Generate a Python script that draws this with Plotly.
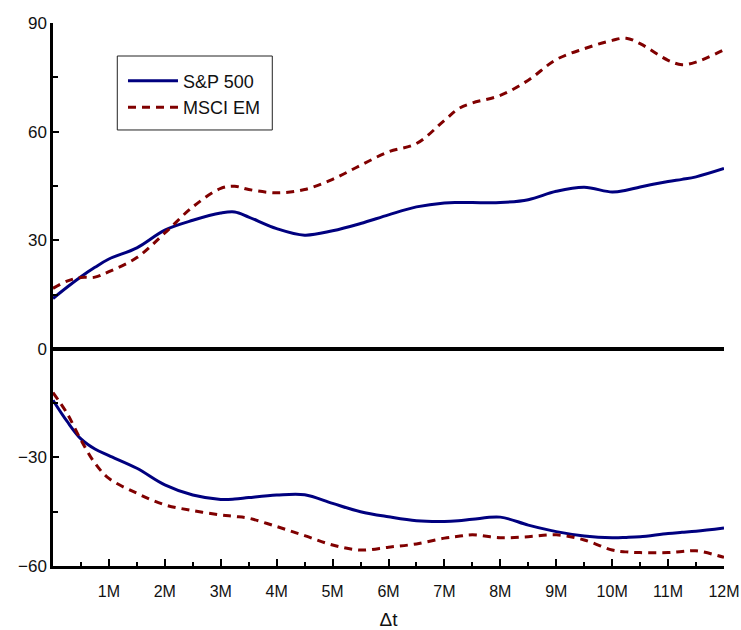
import plotly.graph_objects as go

# Horizon in months
months = [0, 0.25, 0.5, 0.75, 1, 1.5, 2, 2.5, 3, 3.25, 3.5, 4, 4.5, 5, 5.5, 6,
          6.5, 7, 7.25, 7.5, 8, 8.5, 9, 9.5, 10, 10.25, 10.5, 11, 11.25, 11.5, 12]

sp_up = [13.9, 17.0, 19.9, 22.5, 24.8, 27.9, 32.8, 35.5, 37.5, 37.8, 36.4, 33.2, 31.4,
         32.6, 34.6, 37.0, 39.2, 40.3, 40.4, 40.4, 40.4, 41.2, 43.5, 44.6, 43.3, 43.8,
         44.7, 46.2, 46.8, 47.5, 49.8]
em_up = [16.7, 18.7, 19.7, 19.8, 21.3, 25.2, 32.0, 39.2, 44.3, 44.9, 44.0, 43.1, 44.0,
         46.8, 50.7, 54.4, 56.7, 63.1, 66.3, 67.9, 70.0, 74.2, 79.9, 82.9, 85.2, 85.8,
         84.3, 79.7, 78.5, 79.2, 82.6]
sp_dn = [-14.2, -20.0, -24.9, -27.7, -29.5, -33.0, -37.6, -40.4, -41.6, -41.5, -41.1,
         -40.4, -40.3, -42.7, -45.0, -46.4, -47.5, -47.7, -47.5, -47.1, -46.5, -48.7,
         -50.5, -51.7, -52.2, -52.1, -51.9, -51.0, -50.7, -50.4, -49.5]
em_dn = [-12.1, -17.8, -25.2, -31.6, -35.8, -39.9, -43.1, -44.7, -45.9, -46.3, -46.8,
         -49.1, -51.6, -54.2, -55.6, -54.8, -53.9, -52.3, -51.8, -51.4, -52.2, -51.9,
         -51.4, -52.8, -55.6, -56.1, -56.3, -56.3, -56.0, -55.8, -57.6]

x_tickvals = [1, 2, 3, 4, 5, 6, 7, 8, 9, 10, 11, 12]
x_ticktext = ["1M", "2M", "3M", "4M", "5M", "6M", "7M", "8M", "9M", "10M", "11M", "12M"]
y_tickvals = [-60, -30, 0, 30, 60, 90]
y_ticktext = ["\u221260", "\u221230", "0", "30", "60", "90"]

BLUE = "#00007f"
RED = "#800000"
FONT = "Liberation Sans"

fig = go.Figure()
fig.add_trace(go.Scatter(x=months, y=sp_up, mode="lines", name="S&P 500",
                         line=dict(color=BLUE, width=3, shape="spline", smoothing=1.0),
                         legendgroup="sp"))
fig.add_trace(go.Scatter(x=months, y=em_up, mode="lines", name="MSCI EM",
                         line=dict(color=RED, width=3, dash="8px,6px", shape="spline", smoothing=1.0),
                         legendgroup="em"))
fig.add_trace(go.Scatter(x=months, y=sp_dn, mode="lines", name="S&P 500", showlegend=False,
                         line=dict(color=BLUE, width=3, shape="spline", smoothing=1.0),
                         legendgroup="sp"))
fig.add_trace(go.Scatter(x=months, y=em_dn, mode="lines", name="MSCI EM", showlegend=False,
                         line=dict(color=RED, width=3, dash="8px,6px", shape="spline", smoothing=1.0),
                         legendgroup="em"))

# legend frame
fig.add_shape(type="rect", xref="paper", yref="paper",
              x0=0.0958, x1=0.3268, y0=0.803, y1=0.9392,
              line=dict(color="#222222", width=1), fillcolor="white", layer="below")

fig.update_layout(
    width=741, height=630,
    margin=dict(l=53, r=17, t=23, b=64),
    plot_bgcolor="white", paper_bgcolor="white",
    font=dict(family=FONT, color="#111111", size=16),
    showlegend=True,
    legend=dict(x=0.1043, y=0.927, xanchor="left", yanchor="top",
                bgcolor="rgba(0,0,0,0)", borderwidth=0, itemwidth=50,
                font=dict(family=FONT, size=18, color="#111111"),
                tracegroupgap=0),
    xaxis=dict(range=[0, 12], tickmode="array", tickvals=x_tickvals, ticktext=x_ticktext,
               showgrid=False, zeroline=False, showline=True, linecolor="black", linewidth=2.5,
               ticks="inside", ticklen=7, tickwidth=1.5, tickcolor="black",
               ticklabelstandoff=9,
               tickfont=dict(family=FONT, size=16, color="#111111"),
               minor=dict(tickmode="array", tickvals=[0.5 + i for i in range(12)],
                          ticks="inside", ticklen=4, tickwidth=1.5, tickcolor="black"),
               title=dict(text="\u0394t", font=dict(family=FONT, size=19, color="#111111"), standoff=22),
               automargin=False),
    yaxis=dict(range=[-60, 90], tickmode="array", tickvals=y_tickvals, ticktext=y_ticktext,
               showgrid=False, zeroline=True, zerolinecolor="black", zerolinewidth=3.5,
               showline=True, linecolor="black", linewidth=2.5,
               ticks="inside", ticklen=6, tickwidth=1.5, tickcolor="black",
               tickfont=dict(family=FONT, size=17, color="#111111"),
               minor=dict(tickmode="array", tickvals=[-45, -15, 15, 45, 75],
                          ticks="inside", ticklen=5, tickwidth=1.5, tickcolor="black"),
               automargin=False),
)

fig.write_html("out.html")
